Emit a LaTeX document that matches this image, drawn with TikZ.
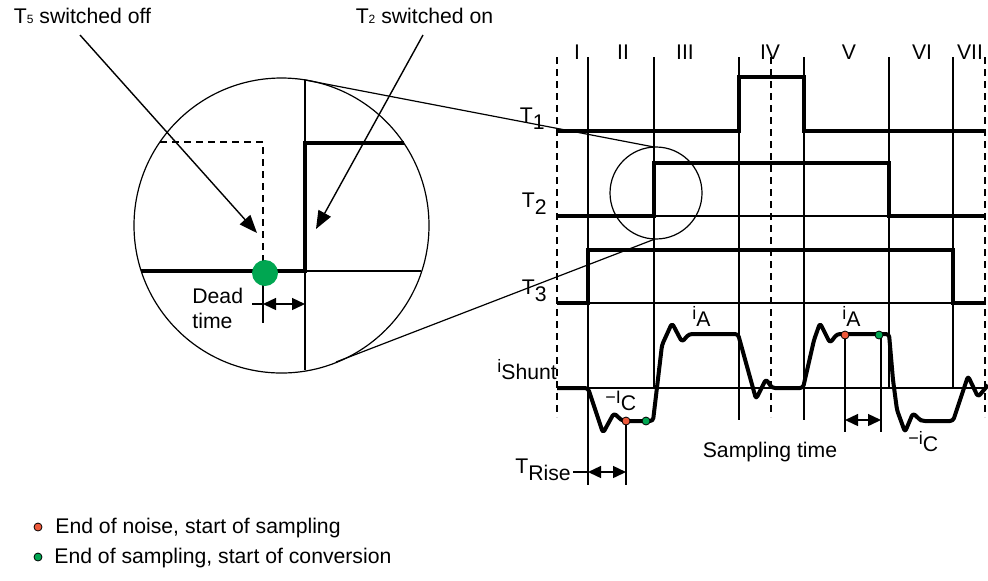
\documentclass[tikz,border=0pt]{standalone}
\usepackage{fontspec}
\setmainfont{Liberation Sans}
\usepackage{tikz}
\usetikzlibrary{arrows.meta}
\definecolor{SampleRed}{HTML}{EE5A3B}
\definecolor{SampleGreen}{HTML}{00A651}
\newcommand{\lowsub}[1]{\raisebox{-3.5pt}{#1}}
\newcommand{\smallbase}[1]{{\fontsize{9}{9}\selectfont #1}}

\tikzset{
  lbl/.style={font=\fontsize{10.6}{12.7}\selectfont, inner sep=0pt},
  sig/.style={line width=1.7pt, line join=miter},
  shunt/.style={line width=2pt, line join=round, rounded corners=1.5pt},
  grid/.style={line width=0.6pt},
  gridd/.style={line width=0.6pt, dash pattern=on 3.5pt off 2.5pt},
  dot/.style={circle, draw=black, line width=0.4pt, minimum size=4pt, inner sep=0pt},
  span/.style={{Triangle[length=6.5pt,width=6pt]}-{Triangle[length=6.5pt,width=6pt]}, line width=0.7pt},
  callout/.style={-{Triangle[length=9pt,width=7pt]}, line width=0.7pt},
}

\begin{document}
\begin{tikzpicture}[x=0.5pt,y=-0.5pt]
\path[use as bounding box] (0,0) rectangle (988,580);

% callouts
\node[lbl,anchor=base] (offtxt) at (82.5,23) {T{\fontsize{6}{6}\selectfont 5} switched off};
\node[lbl,anchor=base] (ontxt) at (424.5,23) {T{\fontsize{6}{6}\selectfont 2} switched on};
\coordinate (offstart) at (80,35);
\coordinate (offtip) at (257,233);
\coordinate (onstart) at (423,35);
\coordinate (ontip) at (316,229);

% magnified view
\coordinate (bigc) at (281.5,225.5);
\coordinate (smallc) at (656,193);
\draw[grid] (bigc) circle[radius=147.5];
\draw[grid] (smallc) circle[radius=46];
\coordinate (bigtop) at (305,80);
\coordinate (bigbot) at (336,362);
\coordinate (smalltop) at (654,147);
\coordinate (smallbot) at (655,239);
\draw[grid] (bigtop) -- (smalltop);
\draw[grid] (bigbot) -- (smallbot);

\draw[grid] (305,80) -- (305,370);
\draw[grid] (305,271) -- (421,271);
\draw[gridd] (160,142) -- (263,142) -- (263,271);
\draw[grid] (263,271) -- (263,323);
\draw[sig] (141,271) -- (305,271) -- (305,143) -- (404,143);
\node[circle,fill=SampleGreen,minimum size=13pt,inner sep=0pt] (deadpt) at (265,273) {};
\draw[grid] (252,304) -- (263,304);
\draw[span] (263,304) -- (305,304);
\node[lbl,anchor=base west] (dead1) at (192,303) {Dead};
\node[lbl,anchor=base west] (dead2) at (192,328) {time};

\draw[callout] (offstart) -- (offtip);
\draw[callout] (onstart) -- (ontip);

% time slots
\foreach \x/\yb in {588/485, 654/388, 739/420, 804/420, 889/388, 953/388}
  \draw[grid] (\x,57) -- (\x,\yb);
\foreach \x in {557, 771, 985}
  \draw[gridd] (\x,57) -- (\x,417);
\foreach \x/\t in {577/I, 623/II, 685/III, 770/IV, 849/V, 922/VI, 970/VII}
  \node[lbl] (slot\t) at (\x,52) {\t};

% gate signals
\node[lbl,anchor=base east] (t1) at (545,122) {T\lowsub{1}};
\node[lbl,anchor=base east] (t2) at (547,207) {T\lowsub{2}};
\node[lbl,anchor=base east] (t3) at (547,294) {T\lowsub{3}};
\draw[grid] (654,216) -- (889,216);
\draw[grid] (588,303) -- (953,303);
\draw[sig] (557,131) -- (739,131) -- (739,77) -- (804,77) -- (804,131) -- (986,131);
\draw[sig] (557,216) -- (654,216) -- (654,163) -- (889,163) -- (889,216) -- (986,216);
\draw[sig] (557,303) -- (588,303) -- (588,250) -- (953,250) -- (953,303) -- (986,303);

% shunt current
\node[lbl,anchor=base west] (ishunt) at (497,372) {\smallbase{i}\lowsub{Shunt}};
\draw[grid] (557,388) -- (985,388);
\draw[shunt] (557,388) -- (588,388) -- (603,433) -- (614,413) -- (619,418) -- (623,421)
  -- (653,421) -- (662,345) -- (672,323) -- (682,342) -- (689,334) -- (738,334)
  -- (756,399) -- (766,379) -- (772,388) -- (803,388) -- (814,340) -- (820,323)
  -- (830,343) -- (837,334) -- (889,334) -- (893,380) -- (897,410) -- (905,432)
  -- (913,413) -- (919,419) -- (922,421) -- (953,421) -- (968,376) -- (978,397)
  -- (988,385);
\node[lbl,anchor=base west] (ia1) at (692,319) {\smallbase{i}\lowsub{A}};
\node[lbl,anchor=base west] (ia2) at (842,319) {\smallbase{i}\lowsub{A}};
\node[lbl,anchor=base west] (ic1) at (605,403) {\smallbase{\textminus I}\lowsub{C}};
\node[lbl,anchor=base west] (ic2) at (908,444) {\smallbase{\textminus i}\lowsub{C}};

% sampling marks
\draw[grid] (626,421) -- (626,485);
\draw[grid] (845,335) -- (845,432);
\draw[grid] (881,335) -- (881,432);
\node[dot,fill=SampleRed] (s1) at (626,421) {};
\node[dot,fill=SampleGreen] (e1) at (646,421) {};
\node[dot,fill=SampleRed] (s2) at (845,335) {};
\node[dot,fill=SampleGreen] (e2) at (879,335) {};
\draw[span] (845,420) -- (881,420);
\node[lbl,anchor=base] (samptxt) at (770,457) {Sampling time};
\draw[grid] (573,472) -- (588,472);
\draw[span] (588,472) -- (626,472);
\node[lbl,anchor=base west] (trise) at (515,473) {T\lowsub{Rise}};

% legend
\node[dot,fill=SampleRed] (legred) at (38,527) {};
\node[lbl,anchor=base west] (legredtxt) at (55,533) {End of noise, start of sampling};
\node[dot,fill=SampleGreen] (leggreen) at (38,557) {};
\node[lbl,anchor=base west] (leggreentxt) at (54,563) {End of sampling, start of conversion};
\end{tikzpicture}
\end{document}
